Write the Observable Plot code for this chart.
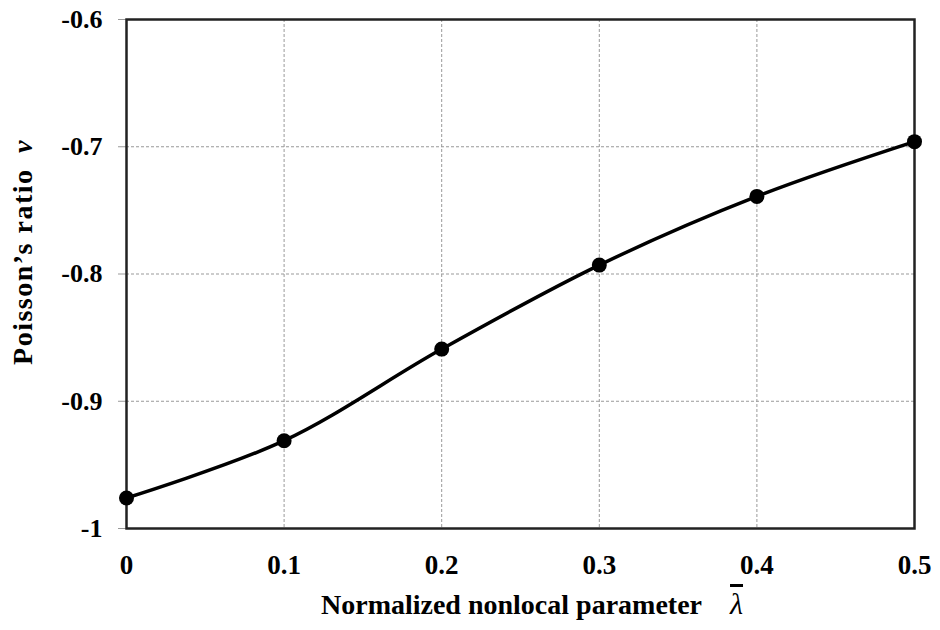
<!DOCTYPE html>
<html>
<head>
<meta charset="utf-8">
<script src="https://cdn.jsdelivr.net/npm/d3@7"></script>
<script src="https://cdn.jsdelivr.net/npm/@observablehq/plot@0.6"></script>
<style>
  body { margin: 0; background: #fff; }
  #chart svg { display: block; }
</style>
</head>
<body>
<div id="chart"></div>
<script>
const lambdaValues = [0, 0.1, 0.2, 0.3, 0.4, 0.5];
const poissonValues = [-0.976, -0.931, -0.859, -0.793, -0.739, -0.696];
const xTicks = [0, 0.1, 0.2, 0.3, 0.4, 0.5];
const yTicks = [-1, -0.9, -0.8, -0.7, -0.6];
const xTitle = "Normalized nonlocal parameter";
const yTitle = "Poisson\u2019s ratio";

const data = lambdaValues.map((x, i) => ({x, y: poissonValues[i]}));

const font = "'Liberation Serif', 'Times New Roman', serif";

const chart = Plot.plot({
  width: 940,
  height: 630,
  marginLeft: 126,
  marginRight: 26,
  marginTop: 19,
  marginBottom: 102,
  style: {fontFamily: font, fontSize: "27px", fontWeight: "bold", color: "#000", background: "#fff"},
  x: {domain: [0, 0.5], ticks: xTicks, tickFormat: d => String(d), label: null},
  y: {domain: [-1, -0.6], ticks: yTicks, tickFormat: d => String(d), label: null},
  marks: [
    Plot.gridX(xTicks.slice(1, -1), {stroke: "#999", strokeOpacity: 1, strokeDasharray: "3,2", strokeWidth: 1}),
    Plot.gridY(yTicks.slice(1, -1), {stroke: "#999", strokeOpacity: 1, strokeDasharray: "3,2", strokeWidth: 1}),
    Plot.axisX({ticks: xTicks, tickSize: 0, tickPadding: 26, tickFormat: d => String(d), label: null, fontSize: 27, fontWeight: "bold"}),
    Plot.axisY({ticks: yTicks, tickSize: 8, tickPadding: 16, stroke: "#999", tickFormat: d => String(d), label: null, fontSize: 26, fontWeight: "bold"}),
    Plot.line(data, {x: "x", y: "y", curve: "catmull-rom", stroke: "#000", strokeWidth: 3.5}),
    Plot.frame({stroke: "#222", strokeWidth: 2.5}),
    Plot.dot(data, {x: "x", y: "y", r: 7.5, fill: "#000", stroke: "none"})
  ]
});

document.getElementById("chart").appendChild(chart);

const svg = d3.select(chart);
// x-axis title
const xt = svg.append("text")
  .attr("x", 532).attr("y", 614)
  .attr("text-anchor", "middle")
  .attr("font-family", font)
  .attr("font-size", 28)
  .attr("font-weight", "bold")
  .attr("fill", "#000");
xt.append("tspan").text(xTitle + "\u2003");
xt.append("tspan")
  .attr("font-style", "italic")
  .attr("font-weight", "normal")
  .attr("font-size", 30)
  .style("text-decoration", "overline")
  .text("\u03BB");

// y-axis title
const yt = svg.append("text")
  .attr("transform", "translate(32,252) rotate(-90)")
  .attr("text-anchor", "middle")
  .attr("font-family", font)
  .attr("font-size", 28)
  .attr("font-weight", "bold")
  .attr("letter-spacing", 1.5)
  .attr("fill", "#000");
yt.append("tspan").text(yTitle + "\u2002");
yt.append("tspan").attr("font-style", "italic").text("\u03BD");
</script>
</body>
</html>
